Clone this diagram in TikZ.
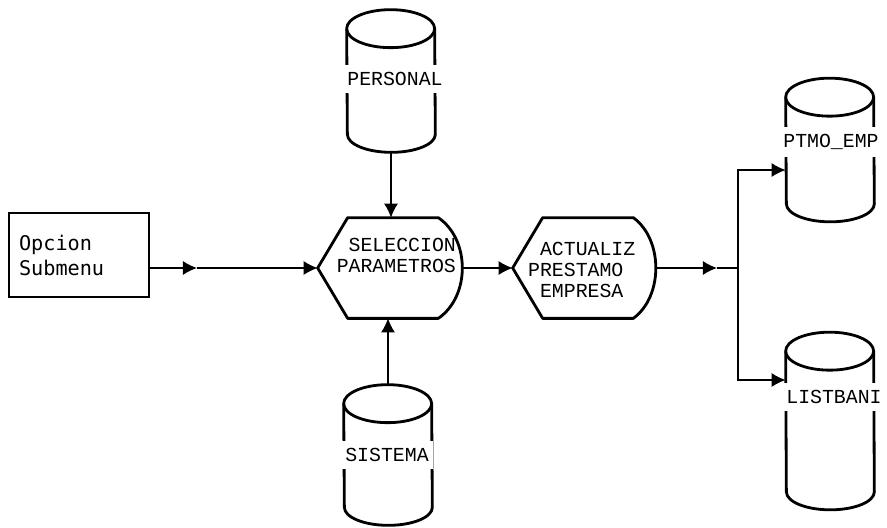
\documentclass[tikz,border=0pt]{standalone}
\usepackage{fontspec}
\newfontfamily\plotfont{Liberation Mono}
\newfontfamily\termfont{DejaVu Sans Mono}
\usepackage{tikz}
\usetikzlibrary{shapes.geometric, positioning, arrows.meta}
\colorlet{myink}{black}
\tikzset{
  >={Latex[length=8pt,width=8pt]}, % filled plotter heads
  node db/.style={minimum width=1.76cm,inner sep=0},
  db line/.style={draw=myink,line width=1.6pt,line join=round},
  node proc/.style={draw=myink,line width=1.6pt,minimum width=2.8cm,minimum height=1.68cm,text width=2.4cm,align=left,inner xsep=0.2cm,font=\termfont\fontsize{11.5}{14.2}\selectfont},
  node disp/.style={minimum height=2cm,inner sep=0},
  disp line/.style={draw=myink,line width=1.6pt,line join=round},
  node label/.style={fill=white,inner xsep=2.5pt,inner ysep=4pt,font=\plotfont\fontsize{11.3}{12}\selectfont},
  connect/.style={myink,line width=0.8pt},
  connect arrow/.style={connect,->}
}

\begin{document}
\begin{tikzpicture}[x=0.02cm,y=-0.02cm]
  \useasboundingbox (0,0) rectangle (887,528);

  % Entry
  \node[node proc] (sub) at (79,255) {Opcion\\Submenu};

  % Processes
  \node[node disp,minimum width=2.88cm] (sel) at (390,268) {};
  \node[node disp,minimum width=2.84cm] (act) at (584,268) {};
  \foreach \n/\l/\r in {sel/0.6cm/-0.48cm, act/0.6cm/-0.44cm}
    \draw[disp line] (\n.west) -- ([xshift=\l]\n.north west) -- ([xshift=\r]\n.north east)
      .. controls ([xshift=0.16cm,yshift=-0.44cm]\n.north east) and ([xshift=0.16cm,yshift=0.44cm]\n.south east)
      .. ([xshift=\r]\n.south east) -- ([xshift=\l]\n.south west) -- cycle;
  \node[node label,fill=none,inner sep=1pt,anchor=east,align=right] (sel-txt) at (458,255) {SELECCION\\PARAMETROS};
  \node[node label,fill=none,inner sep=1pt,anchor=west,align=left] (act-txt) at (526,270) {\hphantom{X}ACTUALIZ\\PRESTAMO\\\hphantom{X}EMPRESA};

  % Files
  \node[node db,minimum height=2.84cm] (per) at (391,81) {};
  \node[node db,minimum height=2.8cm] (sis) at (388,455) {};
  \node[node db,minimum height=2.86cm] (pte) at (830,150) {};
  \node[node db,minimum height=3.54cm] (lis) at (830,421) {};
  \foreach \n in {per,sis,pte,lis} {
    \draw[db line] ([yshift=-0.38cm]\n.north west) arc[start angle=180,end angle=0,x radius=0.88cm,y radius=0.38cm]
      -- ([yshift=0.36cm]\n.south east) arc[start angle=0,end angle=-180,x radius=0.88cm,y radius=0.36cm] -- cycle;
    \draw[db line] ([yshift=-0.38cm]\n.north west) arc[start angle=180,end angle=360,x radius=0.88cm,y radius=0.38cm];
  }
  \node[node label] (per-txt) at (395,79) {PERSONAL};
  \node[node label] (sis-txt) at (387,455) {SISTEMA};
  \node[node label] (pte-txt) at (831,142) {PTMO\_EMP};
  \node[node label] (lis-txt) at (834,397) {LISTBANI};

  % Flow
  \coordinate (m1) at (197,268);
  \coordinate (m2) at (717,268);
  \coordinate (fork) at (738,268);
  \coordinate (b1) at (738,170);
  \coordinate (b2) at (738,380);
  \draw[connect arrow] (sub.east |- sel.west) -- (m1);
  \draw[connect arrow] (m1) -- (sel.west);
  \draw[connect arrow] (per.south) -- (per.south |- sel.north);
  \draw[connect arrow] (sis.north) -- (sis.north |- sel.south);
  \draw[connect arrow] (sel.east) -- (act.west);
  \draw[connect arrow] (act.east) -- (m2);
  \draw[connect] (m2) -- (fork);
  \draw[connect arrow] (fork) -- (b1) -- (b1 -| pte.west);
  \draw[connect arrow] (fork) -- (b2) -- (b2 -| lis.west);

\end{tikzpicture}
\end{document}
